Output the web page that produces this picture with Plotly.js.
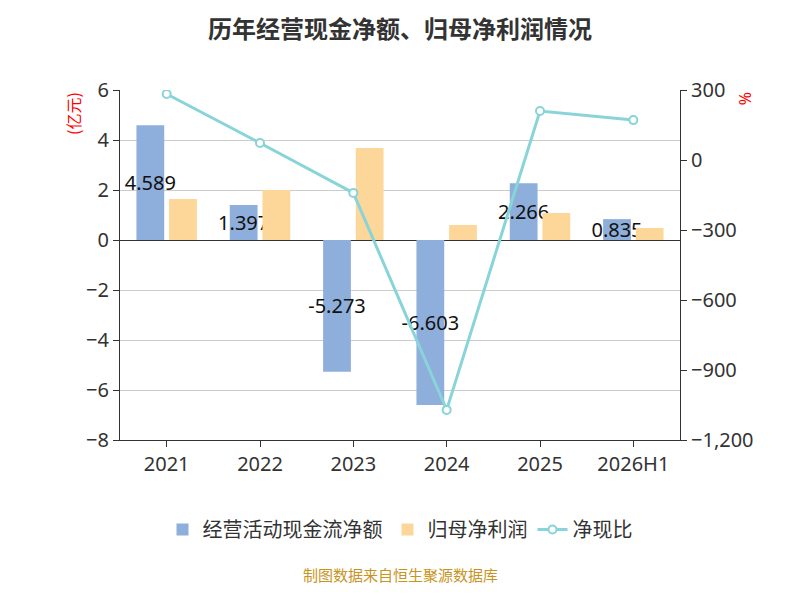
<!DOCTYPE html>
<html>
<head>
<meta charset="utf-8">
<script src="https://cdn.plot.ly/plotly-3.0.1.min.js"></script>
<style>body{margin:0}</style>
</head>
<body>
<div id="chart" style="width:800px;height:600px;"></div>
<script>
const years = ['2021', '2022', '2023', '2024', '2025', '2026H1'];
const cashFlow = [4.589, 1.397, -5.273, -6.603, 2.266, 0.835];
const netProfit = [1.64, 2.0, 3.68, 0.6, 1.08, 0.48];
const cashRatio = [283, 73, -141, -1071, 210, 171];

const font = "'Noto Sans', 'Noto Sans CJK SC', sans-serif";

const traces = [
    {
        x: years, y: cashFlow, type: 'bar', name: '经营活动现金流净额',
        marker: { color: '#8eaedb' },
        text: cashFlow.map(v => v.toFixed(3)),
        textposition: 'inside', insidetextanchor: 'middle', constraintext: 'none', textangle: 0,
        textfont: { color: '#111', size: 20 }, cliponaxis: false
    },
    {
        x: years, y: netProfit, type: 'bar', name: '归母净利润',
        marker: { color: '#fdd799' }
    },
    {
        x: years, y: cashRatio, type: 'scatter', mode: 'lines+markers', name: '净现比',
        yaxis: 'y2',
        line: { color: '#88d4d8', width: 3 },
        marker: { color: '#fff', size: 8, line: { color: '#88d4d8', width: 2 } }
    }
];

const layout = {
    width: 800, height: 600,
    font: { family: font, size: 20, color: '#333' },
    title: { text: '<b>历年经营现金净额、归母净利润情况</b>', x: 0.5, y: 0.965, font: { family: "'Noto Sans CJK SC', sans-serif", size: 24, color: '#333' } },
    margin: { l: 120, r: 120, t: 90, b: 160 },
    barmode: 'group', bargap: 0.3, bargroupgap: 0.15,
    showlegend: true,
    legend: { orientation: 'h', x: 0.5, xanchor: 'center', y: -0.2, font: { size: 20, family: "'Noto Sans CJK SC', sans-serif" } },
    xaxis: { type: 'category', showline: true, linecolor: '#333', ticks: 'outside', tickcolor: '#333', ticklen: 6 },
    yaxis: {
        range: [-8, 6], dtick: 2, showgrid: true, gridcolor: '#ccc',
        zeroline: true, zerolinecolor: '#333', zerolinewidth: 1,
        showline: true, linecolor: '#333', ticks: 'outside', tickcolor: '#333', ticklen: 6
    },
    yaxis2: {
        overlaying: 'y', side: 'right', range: [-1200, 300], dtick: 300,
        tickformat: ',', showgrid: false, zeroline: false,
        showline: true, linecolor: '#333', ticks: 'outside', tickcolor: '#333', ticklen: 6
    },
    annotations: [
        { text: '(亿元)', xref: 'paper', yref: 'paper', x: -0.11, y: 1.0, textangle: -90, showarrow: false, font: { color: 'red', size: 16, family: "'Noto Sans CJK SC', sans-serif" } },
        { text: '%', xref: 'paper', yref: 'paper', x: 1.14, y: 1.0, textangle: 90, showarrow: false, font: { color: 'red', size: 16 } },
        { text: '制图数据来自恒生聚源数据库', xref: 'paper', yref: 'paper', x: 0.5, y: -0.42, showarrow: false, font: { color: '#c8941e', size: 15, family: "'Noto Sans CJK SC', sans-serif" } }
    ]
};

Plotly.newPlot('chart', traces, layout, { displayModeBar: false });
</script>
</body>
</html>
